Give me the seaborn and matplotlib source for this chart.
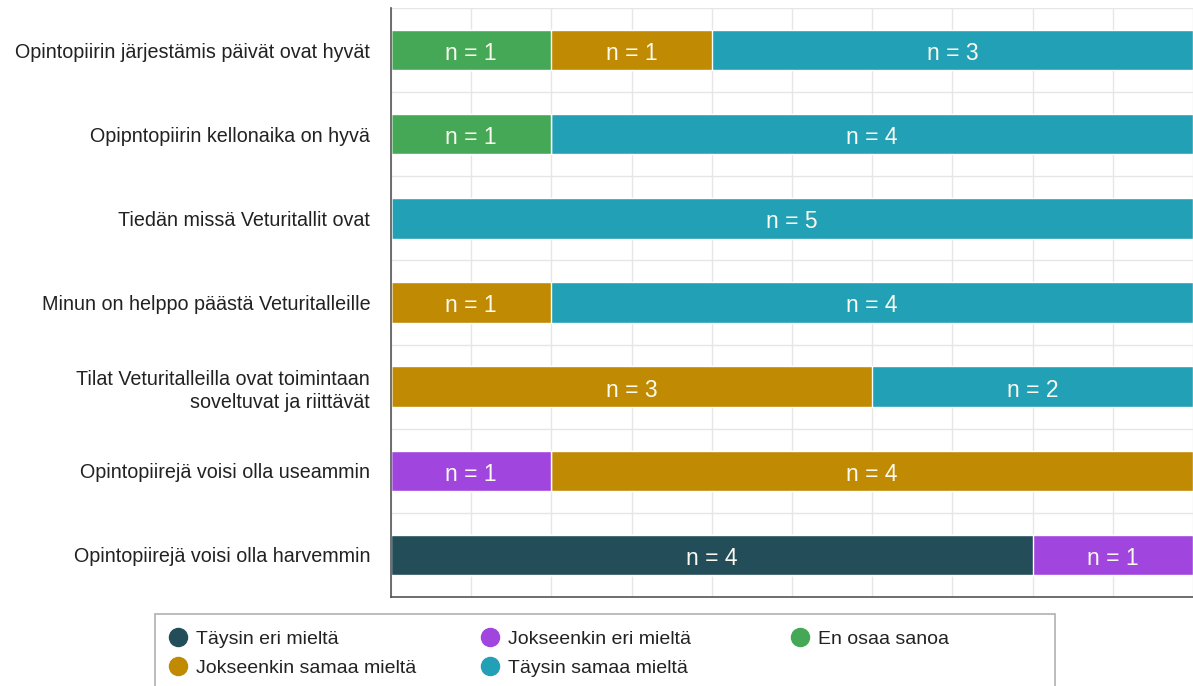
import numpy as np
import pandas as pd
import seaborn as sns
from matplotlib import pyplot as plt
from matplotlib.ticker import MultipleLocator, FixedLocator
from matplotlib.lines import Line2D
from matplotlib.patches import Rectangle

# Données du graphique
kysymykset = [
    'Opintopiirin järjestämis päivät ovat hyvät',
    'Opipntopiirin kellonaika on hyvä',
    'Tiedän missä Veturitallit ovat',
    'Minun on helppo päästä Veturitalleille',
    'Tilat Veturitalleilla ovat toimintaan\nsoveltuvat ja riittävät',
    'Opintopiirejä voisi olla useammin',
    'Opintopiirejä voisi olla harvemmin',
]
vastaukset = ['Täysin eri mieltä', 'Jokseenkin eri mieltä', 'En osaa sanoa',
              'Jokseenkin samaa mieltä', 'Täysin samaa mieltä']
taysin_eri = [0, 0, 0, 0, 0, 0, 4]
jokseenkin_eri = [0, 0, 0, 0, 0, 1, 1]
en_osaa = [1, 1, 0, 0, 0, 0, 0]
jokseenkin_samaa = [1, 0, 0, 1, 3, 4, 0]
taysin_samaa = [3, 4, 5, 4, 2, 0, 0]
varit = ['#244d5a', '#a145df', '#45a856', '#c08a02', '#22a0b6']

sns.set_style('white')
plt.rcParams['font.family'] = ['Liberation Sans', 'DejaVu Sans']
plt.rcParams['text.color'] = '#222222'
plt.rcParams['ytick.color'] = '#222222'

df = pd.DataFrame({'kysymys': kysymykset,
                   vastaukset[0]: taysin_eri,
                   vastaukset[1]: jokseenkin_eri,
                   vastaukset[2]: en_osaa,
                   vastaukset[3]: jokseenkin_samaa,
                   vastaukset[4]: taysin_samaa})
cumul = df[vastaukset].cumsum(axis=1)

fig = plt.figure(figsize=(11.93, 6.86), dpi=100)
ax = fig.add_axes([391 / 1193, 1 - 597 / 686, 1 - 391 / 1193, (597 - 8) / 686])

# Barres empilées : on trace les cumuls du plus long au plus court
for i in range(len(vastaukset) - 1, -1, -1):
    sns.barplot(x=cumul[vastaukset[i]], y=df['kysymys'], color=varit[i],
                orient='h', width=0.48, edgecolor='white', linewidth=1,
                ax=ax, zorder=2, saturation=1)

# Étiquettes n = ...
for j in range(len(kysymykset)):
    gauche = 0
    for v in vastaukset:
        n = df.loc[j, v]
        if n > 0:
            ax.annotate(f'n = {n}', (gauche + n / 2, j), xytext=(0, -2.5),
                        textcoords='offset points', color='#fafaf0',
                        fontsize=16.5, ha='center', va='center', zorder=3)
        gauche += n

ax.set_xlim(0, 5)
ax.set_ylim(6.5, -0.5)
ax.xaxis.set_major_locator(MultipleLocator(0.5))
ax.yaxis.set_minor_locator(FixedLocator(np.arange(-0.5, 7, 1)))
ax.grid(axis='x', which='major', color='#e6e6e6', lw=1, zorder=0)
ax.grid(axis='y', which='minor', color='#e6e6e6', lw=1, zorder=0)
ax.set_axisbelow(True)
ax.tick_params(axis='x', length=0, labelbottom=False)
ax.tick_params(axis='y', which='both', length=0, labelsize=14.2, pad=15)
for t in ax.get_yticklabels():
    t.set_linespacing(1.3)
ax.set_xlabel('')
ax.set_ylabel('')
for s in ['top', 'right']:
    ax.spines[s].set_visible(False)
for s in ['left', 'bottom']:
    ax.spines[s].set_color('#555555')
    ax.spines[s].set_linewidth(1.2)

# Légende en bas : cadre + trois colonnes
fig.patches.append(Rectangle((155 / 1193, -0.05), 900 / 1193, 0.05 + 1 - 614 / 686,
                             transform=fig.transFigure, fill=False,
                             edgecolor='#b0b0b0', lw=1.2))
sarakkeet = [[0, 3], [1, 4], [2]]
sarake_x = [178, 490, 800]
for sar, mx in zip(sarakkeet, sarake_x):
    kahvat = [Line2D([], [], marker='o', ls='', markersize=13, color=varit[k])
              for k in sar]
    fig.legend(kahvat, [vastaukset[k] for k in sar], loc='upper left',
               bbox_to_anchor=((mx - 9.7) / 1193, 1 - 630 / 686),
               fontsize=14, frameon=False, borderpad=0, borderaxespad=0,
               handlelength=1.0, handletextpad=0.4, labelspacing=0.6)

fig.savefig('out.png', dpi=100)
